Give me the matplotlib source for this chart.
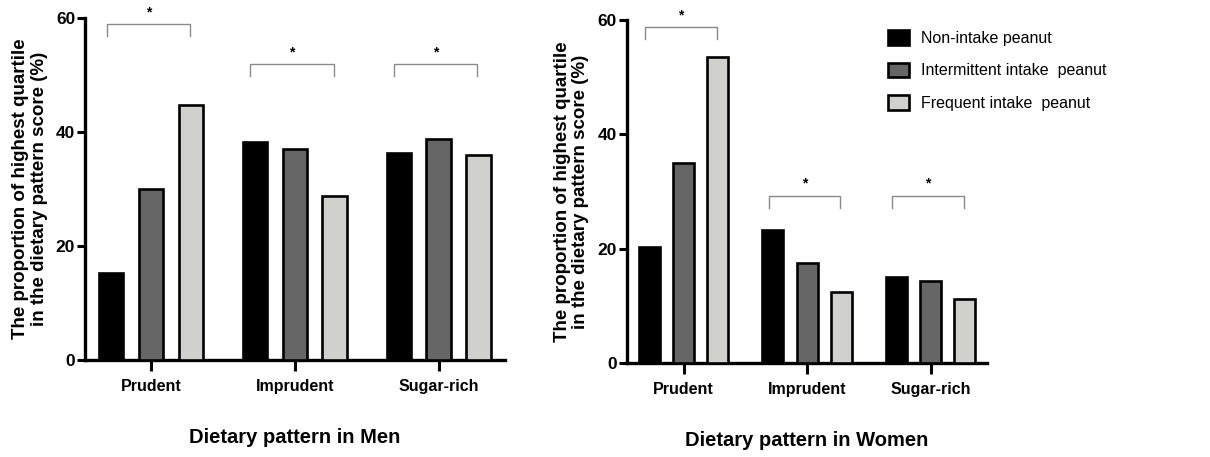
import numpy as np
import matplotlib
matplotlib.use("Agg")
import matplotlib.pyplot as plt
from matplotlib.patches import Patch

plt.rcParams['font.family'] = ['Liberation Sans', 'DejaVu Sans']

# data
categories = ['Prudent', 'Imprudent', 'Sugar-rich']
groups = ['Non-intake peanut', 'Intermittent intake  peanut', 'Frequent intake  peanut']

men_non = [15.3, 38.2, 36.4]
men_inter = [30.0, 37.0, 38.7]
men_freq = [44.7, 28.8, 36.0]

women_non = [20.3, 23.3, 15.0]
women_inter = [35.0, 17.5, 14.4]
women_freq = [53.5, 12.4, 11.2]

# significance brackets: height of bracket per category
men_brackets = [58.9, 51.9, 51.9]
women_brackets = [58.7, 29.2, 29.2]

colors = ['#000000', '#666666', '#d0d1cc']


def draw_panel(ax, series, brackets, xlabel):
    x = np.arange(len(categories))
    width = 0.17
    offset = 0.277
    for i, (vals, c) in enumerate(zip(series, colors)):
        ax.bar(x + (i - 1) * offset, vals, width, color=c,
               edgecolor='black', linewidth=1.9, zorder=3)
    # brackets with stars
    for xi, h in zip(x, brackets):
        x0 = xi - 0.31
        x1 = xi + 0.27
        ax.plot([x0, x0, x1, x1], [h - 2.0, h, h, h - 2.0], color='#8a8a8a',
                lw=1.0, clip_on=False, zorder=4)
        ax.text((x0 + x1) / 2, h + 0.9, '*', ha='center', va='bottom',
                fontsize=10, fontweight='bold')
    ax.set_xlim(-0.46, 2.46)
    ax.set_ylim(0, 60)
    ax.set_yticks([0, 20, 40, 60])
    ax.set_xticks(x)
    ax.set_xticklabels(categories, fontsize=11.5, fontweight='bold')
    for lab in ax.get_yticklabels():
        lab.set_fontweight('bold')
        lab.set_fontsize(12.5)
    ax.tick_params(axis='y', length=6, width=2.2, pad=1)
    ax.tick_params(axis='x', length=8, width=2.2, pad=6)
    for side in ['top', 'right']:
        ax.spines[side].set_visible(False)
    for side in ['left', 'bottom']:
        ax.spines[side].set_linewidth(2.4)
    ax.set_ylabel('The proportion of highest quartile\nin the dietary pattern score (%)',
                  fontsize=13.5, fontweight='bold', labelpad=6, linespacing=1.1)
    ax.set_xlabel(xlabel, fontsize=14.5, fontweight='bold', labelpad=24)


fig = plt.figure(figsize=(12.1, 4.57), dpi=100)
ax1 = fig.add_axes([0.0702, 0.2123, 0.347, 0.748])
ax2 = fig.add_axes([0.518, 0.2057, 0.298, 0.7505])

draw_panel(ax1, [men_non, men_inter, men_freq], men_brackets, 'Dietary pattern in Men')
draw_panel(ax2, [women_non, women_inter, women_freq], women_brackets, 'Dietary pattern in Women')

handles = [Patch(facecolor=c, edgecolor='black', linewidth=1.9) for c in colors]
fig.legend(handles, groups, loc='upper left', bbox_to_anchor=(0.722, 0.966),
           frameon=False, prop={'size': 11.5},
           handlelength=1.3, handleheight=1.05, labelspacing=1.05, handletextpad=0.75)

fig.savefig('out.png', dpi=100)
